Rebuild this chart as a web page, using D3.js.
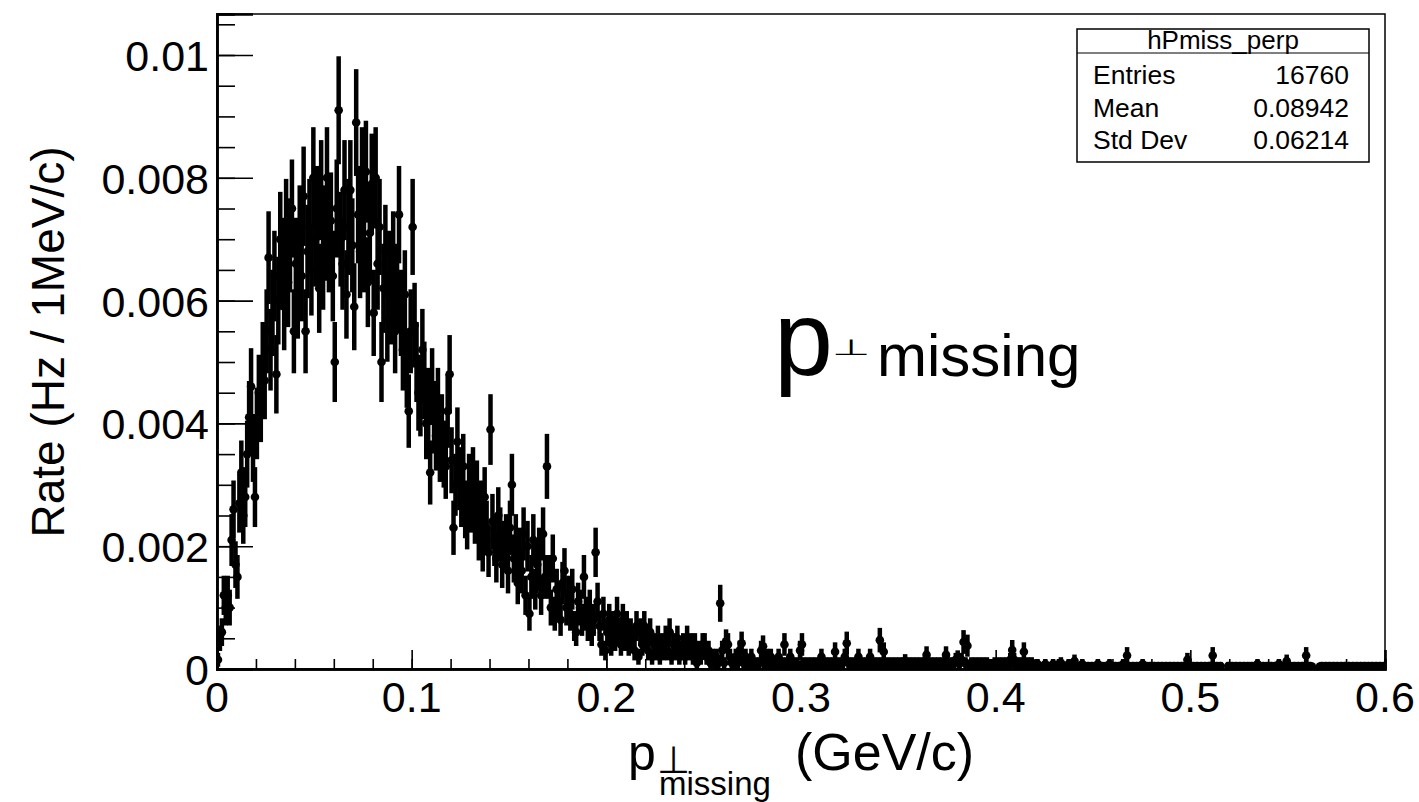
<!DOCTYPE html>
<html>
<head>
<meta charset="utf-8">
<script src="https://cdn.jsdelivr.net/npm/d3@7"></script>
<style>
  html, body { margin: 0; padding: 0; background: #fff; }
  svg { display: block; }
  text { font-family: "Liberation Sans", Arial, Helvetica, sans-serif; fill: #000; }
</style>
</head>
<body>
<svg id="chart" width="1419" height="802"></svg>
<script>
// ---- data ----
const histName = "hPmiss_perp";
const statLabels = ["Entries", "Mean", "Std Dev"];
const statValues = ["16760", "0.08942", "0.06214"];
const xTickLabels = ["0", "0.1", "0.2", "0.3", "0.4", "0.5", "0.6"];
const yTickLabels = ["0", "0.002", "0.004", "0.006", "0.008", "0.01"];
const xTitleMain = "p";
const xTitlePerp = "⊥";
const xTitleSub = "missing";
const xTitleUnit = "(GeV/c)";
const yTitle = "Rate (Hz / 1MeV/c)";
const binWidth = 0.001; // GeV/c per bin (1 MeV/c)
const eventWeight = 8.5e-5; // rate per entry, sets the statistical error bars

// rate per 1 MeV/c bin, bins 0..599
const rate = [
 0.00015,0.0005,0.0006,0.0012,0.0010,0.0012,0.0010,0.0021,0.0026,0.0017,
 0.0015,0.0027,0.0032,0.0025,0.0028,0.0035,0.0041,0.0046,0.0036,0.0028,
 0.0040,0.0045,0.0043,0.0050,0.0047,0.0055,0.0067,0.0052,0.0058,0.0064,
 0.0048,0.0060,0.0070,0.0066,0.0059,0.0072,0.0063,0.0069,0.0075,0.0055,
 0.0066,0.0061,0.0071,0.0064,0.0077,0.0055,0.0068,0.0072,0.0065,0.0080,
 0.0070,0.0074,0.0062,0.0078,0.0066,0.0071,0.0080,0.0069,0.0073,0.0064,
 0.0050,0.0075,0.0091,0.0070,0.0066,0.0078,0.0061,0.0072,0.0078,0.0069,
 0.0059,0.0089,0.0074,0.0068,0.0080,0.0069,0.0081,0.0063,0.0071,0.0079,
 0.0058,0.0080,0.0066,0.0072,0.0050,0.0062,0.0068,0.0057,0.0064,0.0060,
 0.0067,0.0055,0.0062,0.0074,0.0058,0.0052,0.0061,0.0049,0.0042,0.0055,
 0.0072,0.0056,0.0050,0.0045,0.0044,0.0052,0.0047,0.0040,0.0043,0.0032,
 0.0046,0.0041,0.0038,0.0043,0.0036,0.0039,0.0035,0.0033,0.0042,0.0048,
 0.0034,0.0023,0.0030,0.0037,0.0031,0.0028,0.0033,0.0026,0.0024,0.0030,
 0.0027,0.0031,0.0025,0.0029,0.0022,0.0026,0.0020,0.0028,0.0023,0.0019,
 0.0039,0.0024,0.0021,0.0018,0.0025,0.0022,0.0017,0.0020,0.0021,0.0016,
 0.0023,0.0030,0.0018,0.0021,0.0014,0.0019,0.0016,0.0022,0.0012,0.0020,
 0.0009,0.0015,0.0021,0.0013,0.0017,0.0019,0.0012,0.0022,0.0015,0.0033,
 0.0015,0.0010,0.0018,0.0009,0.0013,0.0011,0.0008,0.0014,0.0016,0.0010,
 0.0012,0.0009,0.0013,0.0007,0.0006,0.0011,0.0010,0.0008,0.0015,0.0009,
 0.0007,0.0010,0.0006,0.0008,0.0019,0.0011,0.0007,0.0004,0.0009,0.0003,
 0.0006,0.0008,0.0004,0.0007,0.0005,0.0009,0.0006,0.0004,0.0008,0.0005,
 0.0007,0.0004,0.0006,0.0005,0.0003,0.0007,0.0002,0.0006,0.0004,0.0007,
 0.0005,0.0003,0.0006,0.0002,0.0004,0.0003,0.0005,0.0002,0.0004,0.0003,
 0.0005,0.0003,0.0006,0.0002,0.0004,0.0003,0.0005,0.0002,0.0003,0.0004,
 0.0002,0.0005,0.0003,0.0004,0.0002,0.0004,0.0001,0.0003,0.0002,0.0004,
 0.0004,0.0002,0.0003,0.0001,0.0002,0.0001,0.0002,0.0001,0.00107,0.0003,
 0.0001,0.00045,0.0004,0.0002,0.0001,0.00005,0.0002,0.0001,0.0003,0.00042,
 0.0001,0.0002,0.00005,0.0001,0.0002,0.00005,0.0001,0.00005,0.0001,0.0003,
 0.00037,0.0001,0.0002,0.00005,0.0002,0.0001,0.00005,0.0001,0.0002,0.00005,
 0.0001,0.0004,0.0001,0.00005,0.0002,0.0001,0.00005,0.0001,0.00005,0.0003,
 0.0004,0.0001,0.00005,0.0001,0.00005,0.0001,0.00005,0.0001,0.00005,0.0001,
 0.0002,0.00005,0.0001,0.00005,0.0001,0.00005,0.0001,0.00028,0.00005,0.0001,
 0.00005,0.0001,0.0002,0.00042,0.0001,0.00005,0.0001,0.00005,0.0001,0.0002,
 0.00005,0.0001,0.00005,0.0001,0.00005,0.0002,0.00005,0.0001,0.00005,0.0001,
 0.00047,0.0001,0.00028,0.00005,0.0001,0.00005,0.0001,0.00005,0.0001,0.00005,
 0.0001,0.00005,0.0001,0.000135,0.00005,0.0001,0.00005,0.0001,0.00005,0.0001,
 0.00005,0.0001,0.00005,0.0001,0.00023,0.00005,0.0001,0.00005,0.0001,0.00005,
 0.0001,0.00005,0.0001,0.00005,0.00023,0.00005,0.0001,0.00005,0.0001,0.00015,
 0.00018,0.0001,0.00015,0.00044,0.0001,0.00038,0.00005,0.0001,0.00005,0.0001,
 0.00005,0.0001,0.00005,0.0001,0.00005,0.0001,0.00005,0.00008,0.00005,0.0001,
 0.00005,0.0001,0.00005,0.0001,0.00005,0.0001,0.00005,0.00015,0.00031,0.00015,
 0.00005,0.0001,0.00005,0.0001,0.00028,0.00005,0.0001,0.00005,0.0001,0.00005,
 0.00005,0.00008,0.00005,0.00004,0.00005,0.00008,0.00005,0.00004,0.00005,0.00008,
 0.00005,0.00004,0.00008,0.0001,0.00005,0.00004,0.00005,0.00008,0.00005,0.00004,
 0.00013,0.00005,0.00004,0.00005,0.00008,0.00005,0.00004,0.00005,0.00004,0.00005,
 0.00004,0.00005,0.00008,0.00004,0.00005,0.00004,0.00005,0.00004,0.00008,0.00005,
 0.00004,0.00005,0.00004,0.00005,0.00004,0.00008,0.00005,0.00022,0.00005,0.00004,
 0.00005,0.00004,0.00005,0.00004,0.00005,0.00008,0.00004,0.00005,0.00004,0.00005,
 0.00004,0.00005,0.00004,0.00005,0.00004,0.00005,0.00004,0.00005,0.00004,0.00005,
 0.00004,0.00005,0.00004,0.00005,0.00004,0.00005,0.00004,0.00005,0.00015,0.00005,
 0.00004,0.00005,0.00004,0.00005,0.00004,0.00005,0.00004,0.00005,0.00004,0.00005,
 0.00005,0.00022,0.00004,0.00005,0.00004,0.00005,0,0,0,0.00005,
 0.00004,0.00005,0.00004,0.00005,0.00004,0.00005,0.00004,0.00005,0.00004,0.00005,
 0.00004,0.00005,0.00004,0.00005,0.00008,0.00005,0.00004,0.00005,0.00004,0.00005,
 0.00004,0.00005,0.00004,0.00005,0.00004,0.00008,0.00004,0.00005,0.00004,0.00013,
 0.00004,0.00005,0.00004,0.00005,0.00004,0.00005,0.00004,0.00005,0.00004,0.00022,
 0.00004,0.00005,0.00004,0,0,0,0.00004,0.00005,0.00004,0.00005,
 0.00004,0.00005,0.00004,0.00005,0.00004,0.00005,0.00004,0.00005,0.00004,0.00005,
 0.00004,0.00005,0.00004,0.00005,0.00004,0.00005,0.00004,0.00005,0.00004,0.00005,
 0.00004,0.00005,0.00004,0.00005,0.00004,0.00005,0.00004,0.00005,0.00004,0.00005
];

// ---- layout ----
const frame = { left: 217, top: 14, right: 1385, bottom: 669 };
const xDomain = [0, 0.6];
const yDomain = [0, 0.010668];

const svg = d3.select("#chart");
const x = d3.scaleLinear().domain(xDomain).range([frame.left, frame.right]);
const y = d3.scaleLinear().domain(yDomain).range([frame.bottom, frame.top]);

svg.append("defs").append("clipPath").attr("id", "plotClip")
  .append("rect")
  .attr("x", frame.left).attr("y", frame.top)
  .attr("width", frame.right - frame.left).attr("height", frame.bottom - frame.top);

// data
const pts = rate.map((v, i) => ({ xc: (i + 0.5) * binWidth, v: v, e: Math.sqrt(v * eventWeight) }))
  .filter(d => d.v > 0);

const g = svg.append("g").attr("clip-path", "url(#plotClip)");
g.selectAll("line.err").data(pts).enter().append("line")
  .attr("class", "err")
  .attr("x1", d => x(d.xc)).attr("x2", d => x(d.xc))
  .attr("y1", d => y(Math.max(0, d.v - d.e))).attr("y2", d => y(d.v + d.e))
  .attr("stroke", "#000").attr("stroke-width", 4.5);
g.selectAll("circle.pt").data(pts).enter().append("circle")
  .attr("class", "pt")
  .attr("cx", d => x(d.xc)).attr("cy", d => y(d.v)).attr("r", 4.3)
  .attr("fill", "#000");

// frame
svg.append("rect")
  .attr("x", frame.left).attr("y", frame.top)
  .attr("width", frame.right - frame.left).attr("height", frame.bottom - frame.top)
  .attr("fill", "none").attr("stroke", "#000").attr("stroke-width", 1.5);

// x axis
const xAxisMajor = d3.axisBottom(x).tickValues(d3.range(0, 0.6001, 0.1))
  .tickSize(-19).tickFormat("");
const xAxisMinor = d3.axisBottom(x).tickValues(d3.range(0, 0.6001, 0.02))
  .tickSize(-10).tickFormat("");
[xAxisMinor, xAxisMajor].forEach(ax => {
  const a = svg.append("g").attr("transform", `translate(0,${frame.bottom})`).call(ax);
  a.select(".domain").attr("stroke-width", 2.5);
  a.selectAll(".tick line").attr("stroke-width", 1.6);
});
svg.append("g").selectAll("text").data(xTickLabels).enter().append("text")
  .attr("x", (d) => x(+d)).attr("y", 712)
  .attr("text-anchor", "middle").attr("font-size", 43)
  .text(d => d);

// y axis
const yAxisMajor = d3.axisLeft(y).tickValues(d3.range(0, 0.01001, 0.002))
  .tickSize(-36).tickFormat("");
const yAxisMinor = d3.axisLeft(y).tickValues(d3.range(0, 0.01051, 0.0005))
  .tickSize(-18).tickFormat("");
[yAxisMinor, yAxisMajor].forEach(ax => {
  const a = svg.append("g").attr("transform", `translate(${frame.left},0)`).call(ax);
  a.select(".domain").attr("stroke-width", 2.5);
  a.selectAll(".tick line").attr("stroke-width", 1.6);
});
svg.append("g").selectAll("text").data(yTickLabels).enter().append("text")
  .attr("x", 209).attr("y", d => y(+d) + 16)
  .attr("text-anchor", "end").attr("font-size", 43)
  .text(d => d);

// y title
svg.append("text")
  .attr("transform", "translate(64,342) rotate(-90)")
  .attr("text-anchor", "middle").attr("font-size", 46)
  .text(yTitle);

// x title
const xt = svg.append("g");
xt.append("text").attr("x", 628).attr("y", 770).attr("font-size", 50).text(xTitleMain);
xt.append("text").attr("x", 657).attr("y", 773).attr("font-size", 38)
  .attr("font-family", "DejaVu Sans").text(xTitlePerp);
xt.append("text").attr("x", 659).attr("y", 795).attr("font-size", 33).text(xTitleSub);
xt.append("text").attr("x", 795).attr("y", 770).attr("font-size", 52).text(xTitleUnit);

// in-plot label
const lab = svg.append("g");
lab.append("text").attr("x", 774).attr("y", 375).attr("font-size", 106).text(xTitleMain);
lab.append("text").attr("transform", "translate(832,355) scale(1,0.5)")
  .attr("font-size", 44).attr("font-family", "DejaVu Sans").text(xTitlePerp);
lab.append("text").attr("x", 877).attr("y", 376).attr("font-size", 60).text(xTitleSub);

// stats box
const sb = { x: 1077, y: 29, w: 292, h: 133, titleH: 24 };
svg.append("rect").attr("x", sb.x).attr("y", sb.y).attr("width", sb.w).attr("height", sb.h)
  .attr("fill", "#fff").attr("stroke", "#000").attr("stroke-width", 1.5);
svg.append("line").attr("x1", sb.x).attr("x2", sb.x + sb.w)
  .attr("y1", sb.y + sb.titleH).attr("y2", sb.y + sb.titleH)
  .attr("stroke", "#000").attr("stroke-width", 1.2);
svg.append("text").attr("x", sb.x + sb.w / 2).attr("y", 49)
  .attr("text-anchor", "middle").attr("font-size", 26).text(histName);
const rowY = [84, 117, 149];
svg.append("g").selectAll("text").data(statLabels).enter().append("text")
  .attr("x", 1093).attr("y", (d, i) => rowY[i]).attr("font-size", 26.5).text(d => d);
svg.append("g").selectAll("text").data(statValues).enter().append("text")
  .attr("x", 1349).attr("y", (d, i) => rowY[i]).attr("text-anchor", "end")
  .attr("font-size", 26.5).text(d => d);
</script>
</body>
</html>
